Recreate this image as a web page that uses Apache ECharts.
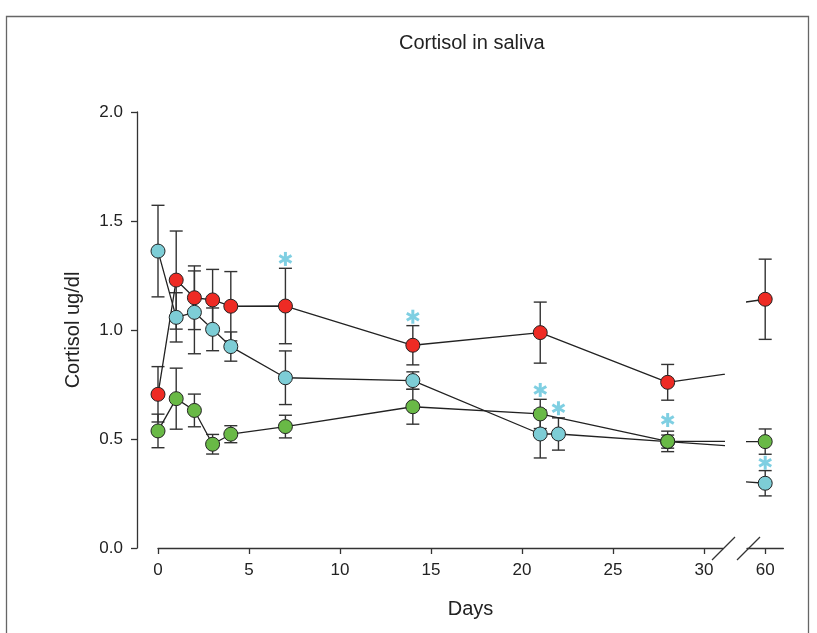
<!DOCTYPE html>
<html>
<head>
<meta charset="utf-8">
<script src="https://cdn.jsdelivr.net/npm/echarts@6/dist/echarts.min.js"></script>
<style>html,body{margin:0;padding:0;background:#fff}#c{width:817px;height:633px}</style>
</head>
<body>
<div id="c"></div>
<script>
// ---- data ----
const redDays = [0, 1, 2, 3, 4, 7, 14, 21, 28, 60];
const redMean = [0.705, 1.229, 1.148, 1.138, 1.109, 1.110, 0.930, 0.988, 0.760, 1.141];
const redErr  = [0.127, 0.225, 0.146, 0.140, 0.159, 0.173, 0.090, 0.140, 0.082, 0.184];

const cyanDays = [0, 1, 2, 3, 4, 7, 14, 21, 22, 28, 60];
const cyanMean = [1.362, 1.058, 1.081, 1.003, 0.924, 0.781, 0.768, 0.523, 0.523, 0.488, 0.297];
const cyanErr  = [0.210, 0.113, 0.190, 0.098, 0.067, 0.123, 0.040, 0.110, 0.074, 0.030, 0.058];

const greenDays = [0, 1, 2, 3, 4, 7, 14, 21, 28, 60];
const greenMean = [0.537, 0.685, 0.631, 0.476, 0.522, 0.557, 0.648, 0.615, 0.489, 0.488];
const greenErr  = [0.077, 0.140, 0.075, 0.045, 0.039, 0.052, 0.080, 0.067, 0.047, 0.058];

const sigDays = [7, 14, 21, 22, 28, 60];
const sigY    = [1.326, 1.061, 0.725, 0.641, 0.587, 0.391];

const xTicksMain = [0, 5, 10, 15, 20, 25, 30];
const xTicksLate = [60];
const yTicks = [0, 0.5, 1.0, 1.5, 2.0];

const title = 'Cortisol in saliva';
const yName = 'Cortisol ug/dl';
const xName = 'Days';

// ---- build ----
const FONT = '"Liberation Sans", Arial, sans-serif';
const AX = '#333';
const colors = { red: '#EE2B24', cyan: '#7DCDD6', green: '#69B946', sig: '#7FCFE2' };

function pts(days, mean) { return days.map((d, i) => [d, mean[i]]); }
function errPts(days, mean, err, lo, hi) {
  const out = [];
  days.forEach((d, i) => { if (d >= lo && d <= hi) out.push([d, mean[i], err[i]]); });
  return out;
}
function errRender(params, api) {
  const x = api.value(0), y = api.value(1), e = api.value(2);
  const t = api.coord([x, y + e]), b = api.coord([x, y - e]);
  const w = 6.5;
  const st = { stroke: AX, lineWidth: 1.4 };
  return { type: 'group', children: [
    { type: 'line', shape: { x1: t[0], y1: t[1], x2: b[0], y2: b[1] }, style: st },
    { type: 'line', shape: { x1: t[0] - w, y1: t[1], x2: t[0] + w, y2: t[1] }, style: st },
    { type: 'line', shape: { x1: b[0] - w, y1: b[1], x2: b[0] + w, y2: b[1] }, style: st }
  ]};
}
function starRender(params, api) {
  const c = api.coord([api.value(0), api.value(1)]);
  const r = 7;
  const st = { stroke: colors.sig, lineWidth: 3 };
  const ch = [];
  [90, 30, -30].forEach(a => {
    const rad = a * Math.PI / 180;
    const dx = r * Math.cos(rad), dy = r * Math.sin(rad);
    ch.push({ type: 'line', shape: { x1: c[0] - dx, y1: c[1] - dy, x2: c[0] + dx, y2: c[1] + dy }, style: st });
  });
  return { type: 'group', children: ch };
}

const groups = [
  { name: 'red', days: redDays, mean: redMean, err: redErr, color: colors.red },
  { name: 'cyan', days: cyanDays, mean: cyanMean, err: cyanErr, color: colors.cyan },
  { name: 'green', days: greenDays, mean: greenMean, err: greenErr, color: colors.green }
];

const series = [];
[[0, 0, 31.04], [1, 59, 61]].forEach(([gi, lo, hi]) => {
  groups.forEach(g => {
    series.push({
      type: 'custom', xAxisIndex: gi, yAxisIndex: gi, z: 1, silent: true,
      renderItem: errRender, data: errPts(g.days, g.mean, g.err, lo, hi)
    });
  });
  groups.forEach(g => {
    series.push({
      type: 'line', xAxisIndex: gi, yAxisIndex: gi, z: 2, clip: true, silent: true,
      data: pts(g.days, g.mean),
      symbol: 'circle', symbolSize: 14, showAllSymbol: true,
      lineStyle: { color: '#222', width: 1.3 },
      itemStyle: { color: g.color, borderColor: '#222', borderWidth: 1 },
      emphasis: { disabled: true }, animation: false
    });
  });
  series.push({
    type: 'custom', xAxisIndex: gi, yAxisIndex: gi, z: 3, silent: true,
    renderItem: starRender,
    data: sigDays.map((d, i) => [d, sigY[i]]).filter(p => p[0] >= lo && p[0] <= hi)
  });
});

const labelStyle = { color: '#222', fontSize: 17, fontFamily: FONT };

const option = {
  animation: false,
  textStyle: { fontFamily: FONT },
  title: {
    text: title, left: 394, top: 28,
    textStyle: { fontSize: 20, fontWeight: 'normal', color: '#222', fontFamily: FONT }
  },
  grid: [
    { left: 158, top: 112, width: 565, height: 436, outerBoundsMode: 'none', containLabel: false },
    { left: 747, top: 112, width: 36.4, height: 436, outerBoundsMode: 'none', containLabel: false }
  ],
  xAxis: [
    {
      type: 'value', gridIndex: 0, min: 0, max: 31.04,
      splitLine: { show: false },
      axisLine: { show: true, onZero: false, lineStyle: { color: AX, width: 1.3 } },
      axisTick: { show: true, length: 6, customValues: xTicksMain, lineStyle: { color: AX, width: 1.3 } },
      axisLabel: { customValues: xTicksMain, margin: 14, ...labelStyle },
      name: xName, nameLocation: 'middle', nameGap: 51,
      nameTextStyle: { fontSize: 20, color: '#222', fontFamily: FONT, padding: [0, 0, 0, 60] }
    },
    {
      type: 'value', gridIndex: 1, min: 59, max: 61,
      splitLine: { show: false },
      axisLine: { show: true, onZero: false, lineStyle: { color: AX, width: 1.3 } },
      axisTick: { show: true, length: 6, customValues: xTicksLate, lineStyle: { color: AX, width: 1.3 } },
      axisLabel: { customValues: xTicksLate, margin: 14, ...labelStyle }
    }
  ],
  yAxis: [
    {
      type: 'value', gridIndex: 0, min: 0, max: 2, interval: 0.5, offset: 21,
      splitLine: { show: false },
      axisLine: { show: true, onZero: false, lineStyle: { color: AX, width: 1.3 } },
      axisTick: { show: true, length: 6, customValues: yTicks, lineStyle: { color: AX, width: 1.3 } },
      axisLabel: { customValues: yTicks, margin: 14, formatter: v => v.toFixed(1), ...labelStyle },
      name: yName, nameLocation: 'middle', nameGap: 54,
      nameTextStyle: { fontSize: 20, color: '#222', fontFamily: FONT }
    },
    {
      type: 'value', gridIndex: 1, min: 0, max: 2, show: false
    }
  ],
  graphic: [
    { type: 'rect', silent: true, shape: { x: 6.5, y: 16.5, width: 802, height: 640 },
      style: { fill: 'none', stroke: '#666', lineWidth: 1.3 } },
    { type: 'line', silent: true, shape: { x1: 712, y1: 560, x2: 735, y2: 537 },
      style: { stroke: AX, lineWidth: 1.3 } },
    { type: 'line', silent: true, shape: { x1: 737, y1: 560, x2: 760, y2: 537 },
      style: { stroke: AX, lineWidth: 1.3 } }
  ],
  series: series
};

const chart = echarts.init(document.getElementById('c'), null, { renderer: 'canvas' });
chart.setOption(option);
</script>
</body>
</html>
